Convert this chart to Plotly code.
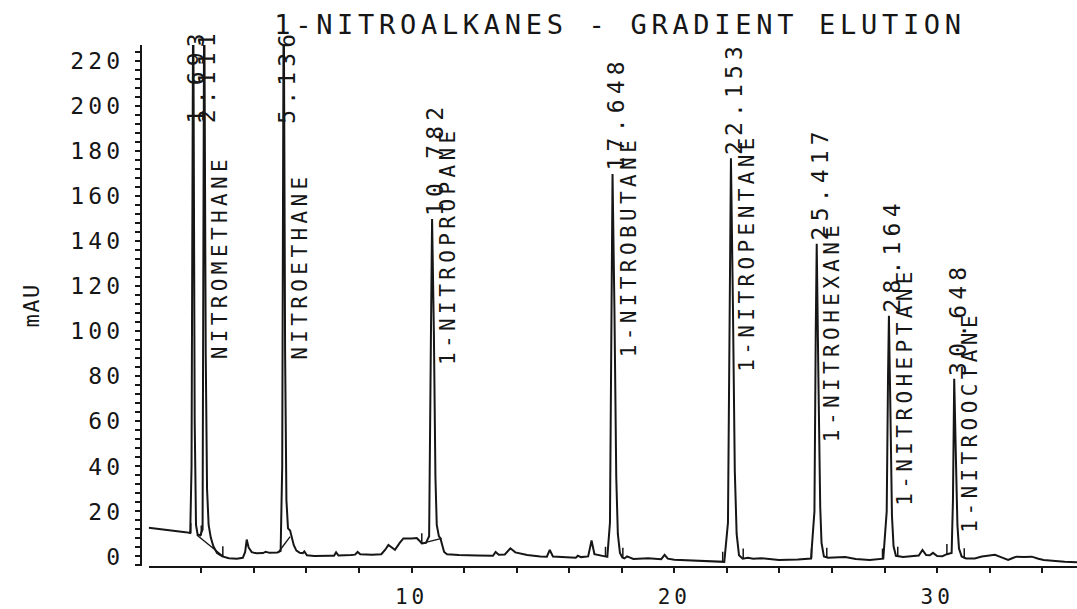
import plotly.graph_objects as go

# ---------------------------------------------------------------------------
# Chromatogram (retention time in minutes, absorbance in mAU), digitised
# plotter output.  Apex points of the integrated peaks are kept separately in
# PEAK_RT / PEAK_MAU and merged into the trace below.
# ---------------------------------------------------------------------------
TRACE_T = [
    0.00, 0.50, 1.00, 1.40, 1.58, 1.63, 1.75, 1.80, 1.86, 1.96, 2.05,
    2.17, 2.22, 2.28, 2.36, 2.46, 2.60, 2.80, 3.05, 3.35, 3.58, 3.67, 3.73,
    3.80, 3.92, 4.10, 4.35, 4.45, 4.60, 4.90, 5.02, 5.08,
    5.19, 5.24, 5.30, 5.38, 5.44, 5.52, 5.62, 5.75, 5.86, 5.92, 6.02, 6.30,
    6.90, 7.05, 7.13, 7.22, 7.70, 7.85, 7.95, 8.05, 8.50, 8.85, 9.00, 9.12,
    9.25, 9.37, 9.55, 9.69, 10.00, 10.20, 10.30, 10.39, 10.55, 10.67, 10.74,
    10.85, 10.91, 10.96, 11.04, 11.10, 11.16, 11.24, 11.35, 11.80, 12.50,
    13.10, 13.20, 13.32, 13.55, 13.76, 13.95, 14.40, 14.90, 15.15, 15.26,
    15.38, 15.90, 16.25, 16.33, 16.45, 16.72, 16.85, 16.96, 17.20, 17.45,
    17.55, 17.61,
    17.72, 17.79, 17.85, 17.93, 18.02, 18.10, 18.20, 18.30, 18.44, 19.00,
    19.50, 19.63, 19.75, 20.00, 20.80, 21.50, 21.90, 22.04, 22.11,
    22.23, 22.30, 22.37, 22.46, 22.60, 22.80, 23.00, 23.30, 23.98, 24.70,
    25.20, 25.33, 25.38,
    25.48, 25.55, 25.60, 25.69, 25.85, 26.20, 26.50, 26.90, 27.43, 27.95,
    28.08, 28.13,
    28.22, 28.28, 28.34, 28.43, 28.70, 29.05, 29.30, 29.44, 29.58, 29.72,
    29.84, 30.00, 30.20, 30.37, 30.55, 30.60,
    30.71, 30.77, 30.83, 30.93, 31.10, 31.43, 31.70, 31.90, 32.20, 32.45,
    32.70, 32.90, 33.02, 33.30, 33.60, 33.85, 34.05, 34.50, 34.85, 35.32,
]
TRACE_MAU = [
    12.8, 12.2, 11.5, 10.8, 10.4, 40.0, 60.0, 14.0, 9.8, 9.3, 12.0,
    90.0, 30.0, 14.0, 8.5, 4.5, 1.5, 0.0, -0.8, -1.0, -0.6, 2.0, 7.5,
    4.0, 1.9, 1.4, 1.5, 2.1, 1.6, 1.8, 2.5, 40.0,
    90.0, 25.0, 12.5, 11.5, 9.0, 5.0, 2.6, 1.6, 1.4, 2.2, 0.5, 0.2,
    0.3, 0.3, 1.8, 0.4, 0.6, 0.8, 2.0, 1.0, 0.8, 1.0, 3.0, 5.1,
    4.0, 2.9, 6.0, 8.0, 8.0, 8.2, 7.0, 5.8, 6.0, 9.0, 100.0,
    100.0, 35.0, 14.0, 9.0, 8.0, 5.0, 2.0, 1.0, 0.6, 0.4,
    0.3, 2.0, 0.8, 0.9, 3.6, 1.8, 0.6, 0.0, -0.1, 2.9,
    0.0, -0.4, -0.6, 0.3, -0.3, 0.0, 7.1, 1.0, 0.5, -0.2,
    15.0, 110.0,
    110.0, 35.0, 10.0, 1.5, -0.5, -0.9, 0.0, -0.5, -1.1, -0.8,
    -1.2, 0.7, -1.0, -1.5, -2.0, -2.2, -2.4, 15.0, 115.0,
    110.0, 38.0, 10.0, 0.5, -1.0, -0.6, -1.0, -0.8, -1.6, -1.4,
    -0.9, 20.0, 100.0,
    80.0, 22.0, 6.0, 0.0, -0.6, -0.5, -0.3, -1.1, -1.6, -1.0,
    20.0, 80.0,
    65.0, 18.0, 4.5, 0.3, -0.2, 0.0, 0.4, 2.9, 0.6, 0.5,
    1.6, 0.2, 0.1, 1.0, 1.5, 25.0,
    45.0, 14.0, 3.5, 0.0, -0.9, -0.9, 0.0, 0.4, 0.7, -0.4,
    -1.6, -0.6, -0.1, -0.3, -0.1, -1.0, -1.6, -2.0, -2.4, -2.6,
]

# Integrated peaks: retention time (min) and apex height (mAU).
# The first three peaks run off-scale; 260 stands for "above full scale".
PEAK_RT = [1.693, 2.111, 5.136, 10.782, 17.648, 22.153, 25.417, 28.164, 30.648]
PEAK_MAU = [260, 260, 260, 150, 170, 177, 139, 107, 79]
PEAK_NAME = ["", "NITROMETHANE", "NITROETHANE", "1-NITROPROPANE",
             "1-NITROBUTANE", "1-NITROPENTANE", "1-NITROHEXANE",
             "1-NITROHEPTANE", "1-NITROOCTANE"]

# Integration start/stop marks (min, mAU at the trace)
INTEG_T = [1.60, 2.00, 2.82, 10.39, 17.38, 18.04, 21.84, 22.62, 25.22,
           25.80, 27.92, 28.50, 30.37, 31.03]
INTEG_MAU = [10.4, 9.3, 0.0, 5.8, -0.2, -0.6, -2.4, -1.0, -0.9,
             -0.6, -1.0, -0.2, 1.0, -0.9]

# Drawn (skimmed) baselines under the unresolved peaks
BASE_FROM_T = [1.83, 4.93, 10.39]
BASE_FROM_MAU = [9.5, 1.75, 5.8]
BASE_TO_T = [2.84, 5.38, 11.15]
BASE_TO_MAU = [0.0, 8.8, 8.0]

# Axis ticks
X_TICKS = [10, 20, 30]
X_MINOR = [2, 4, 6, 8, 12, 14, 16, 18, 22, 24, 26, 28, 32, 34]
Y_TICKS = [0, 20, 40, 60, 80, 100, 120, 140, 160, 180, 200, 220]

TITLE = "1-NITROALKANES - GRADIENT ELUTION"
Y_LABEL = "mAU"

# ---------------------------------------------------------------------------
# Styling / layout constants
# ---------------------------------------------------------------------------
INK = "#161616"
FONT = "DejaVu Sans Mono"
W, H = 1077, 609
MARGIN_L, MARGIN_R, MARGIN_T, MARGIN_B = 141, 0, 45, 36
X_RANGE = [0, 35.32]
Y_RANGE = [-4.25, 227.3]
X_DOMAIN_START = 7.7 / (W - MARGIN_L - MARGIN_R)

OFFSCALE_LABEL_MAU = 191            # where labels of off-scale peaks start
NAME_MID_MAU = [None, 133, 129, 138, 137.6, 135.4, 100, 75.8, 60]
INTEG_MARK_LEN = 4.5                # mAU


def spaced(text, px):
    """Plotter-style wide lettering."""
    return f"<span style='letter-spacing:{px}px'>{text}</span>"


pts = sorted(list(zip(TRACE_T, TRACE_MAU)) + list(zip(PEAK_RT, PEAK_MAU)))
trace_t = [p[0] for p in pts]
trace_v = [p[1] for p in pts]

fig = go.Figure()

fig.add_trace(go.Scatter(
    x=trace_t, y=trace_v, mode="lines",
    line=dict(color=INK, width=2.0), hoverinfo="skip", showlegend=False,
))

# skimmed baselines
bx, by = [], []
for t0, v0, t1, v1 in zip(BASE_FROM_T, BASE_FROM_MAU, BASE_TO_T, BASE_TO_MAU):
    bx += [t0, t1, None]
    by += [v0, v1, None]
fig.add_trace(go.Scatter(
    x=bx, y=by, mode="lines", line=dict(color=INK, width=1.4),
    hoverinfo="skip", showlegend=False,
))

# integration marks
mx, my = [], []
for t, v in zip(INTEG_T, INTEG_MAU):
    mx += [t, t, None]
    my += [v, v + INTEG_MARK_LEN, None]
fig.add_trace(go.Scatter(
    x=mx, y=my, mode="lines", line=dict(color=INK, width=1.5),
    hoverinfo="skip", showlegend=False,
))

annotations = []
for i, (rt, h) in enumerate(zip(PEAK_RT, PEAK_MAU)):
    annotations.append(dict(
        x=rt, y=min(h, OFFSCALE_LABEL_MAU), xref="x", yref="y",
        text=spaced(f"{rt:.3f}", 5.2), textangle=-90,
        xanchor="center", yanchor="bottom", xshift=3, yshift=1,
        showarrow=False, font=dict(family=FONT, size=23, color=INK),
    ))
    if PEAK_NAME[i]:
        annotations.append(dict(
            x=rt, y=NAME_MID_MAU[i], xref="x", yref="y",
            text=spaced(PEAK_NAME[i], 4.4), textangle=-90,
            xanchor="center", yanchor="middle", xshift=16,
            showarrow=False, font=dict(family=FONT, size=21, color=INK),
        ))

annotations.append(dict(
    x=(31 - MARGIN_L) / (W - MARGIN_L - MARGIN_R), y=0.50,
    xref="paper", yref="paper", text=spaced(Y_LABEL, 1.5), textangle=-90,
    xanchor="center", yanchor="middle", showarrow=False,
    font=dict(family=FONT, size=22, color=INK),
))

fig.update_layout(
    width=W, height=H,
    margin=dict(l=MARGIN_L, r=MARGIN_R, t=MARGIN_T, b=MARGIN_B, pad=0),
    paper_bgcolor="white", plot_bgcolor="white",
    font=dict(family=FONT, color=INK),
    title=dict(
        text=spaced(TITLE, 4.7), x=620 / W, xref="container", xanchor="center",
        y=1 - 25 / H, yref="container", yanchor="middle",
        font=dict(family=FONT, size=27, color=INK),
    ),
    xaxis=dict(
        domain=[X_DOMAIN_START, 1], range=X_RANGE, anchor="y",
        showline=True, linecolor=INK, linewidth=2,
        showgrid=False, zeroline=False,
        tickmode="array", tickvals=X_TICKS,
        ticktext=[spaced(str(v), 4) for v in X_TICKS],
        ticks="outside", ticklen=5, tickwidth=1.5, tickcolor=INK,
        ticklabelstandoff=6,
        tickfont=dict(family=FONT, size=21, color=INK),
        minor=dict(tickmode="array", tickvals=X_MINOR, ticks="outside",
                   ticklen=5, tickwidth=1.5, tickcolor=INK, showgrid=False),
    ),
    yaxis=dict(
        range=Y_RANGE, anchor="free", position=0,
        showline=True, linecolor=INK, linewidth=2,
        showgrid=False, zeroline=False,
        tickmode="array", tickvals=Y_TICKS,
        ticktext=[spaced(str(v), 4.2) for v in Y_TICKS],
        ticks="outside", ticklen=5, tickwidth=1.5, tickcolor=INK,
        ticklabelstandoff=6,
        tickfont=dict(family=FONT, size=23, color=INK),
        minor=dict(dtick=4, tick0=0, ticks="outside", ticklen=5,
                   tickwidth=1.5, tickcolor=INK, showgrid=False),
    ),
    annotations=annotations,
    showlegend=False,
)

fig.write_html("out.html")
